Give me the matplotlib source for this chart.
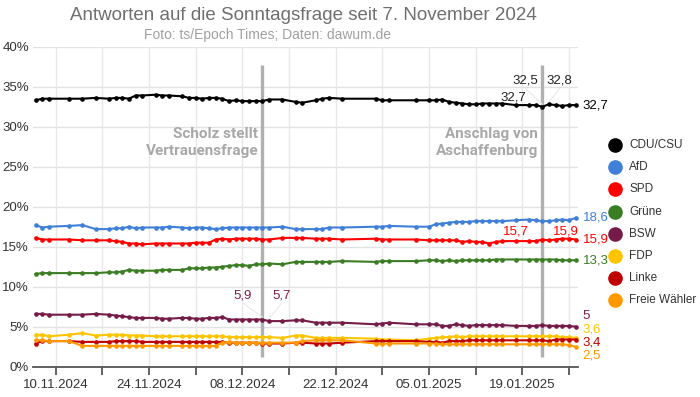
import matplotlib
matplotlib.use('Agg')
import matplotlib.pyplot as plt
import pandas as pd

# ---------------- data ----------------
dates = ["2024-11-07", "2024-11-08", "2024-11-09", "2024-11-12", "2024-11-14", "2024-11-16",
         "2024-11-18", "2024-11-19", "2024-11-20", "2024-11-21", "2024-11-22", "2024-11-23",
         "2024-11-25", "2024-11-26", "2024-11-27", "2024-11-29", "2024-11-30", "2024-12-01",
         "2024-12-02", "2024-12-03", "2024-12-04", "2024-12-05", "2024-12-06", "2024-12-07",
         "2024-12-08", "2024-12-09", "2024-12-10", "2024-12-11", "2024-12-12", "2024-12-14",
         "2024-12-16", "2024-12-17", "2024-12-19", "2024-12-20", "2024-12-21", "2024-12-23",
         "2024-12-28", "2024-12-29", "2024-12-30", "2025-01-03", "2025-01-05", "2025-01-06",
         "2025-01-07", "2025-01-08", "2025-01-09", "2025-01-10", "2025-01-11", "2025-01-12",
         "2025-01-13", "2025-01-14", "2025-01-15", "2025-01-16", "2025-01-18", "2025-01-20",
         "2025-01-21", "2025-01-22", "2025-01-23", "2025-01-24", "2025-01-25", "2025-01-26",
         "2025-01-27"]

cdu = [33.3, 33.5, 33.5, 33.5, 33.5, 33.6, 33.5, 33.6, 33.6, 33.5,
       33.9, 33.9, 34.0, 33.9, 33.9, 33.8, 33.6, 33.6, 33.5, 33.6,
       33.6, 33.5, 33.2, 33.3, 33.2, 33.2, 33.2, 33.2, 33.4, 33.4,
       33.1, 33.0, 33.3, 33.5, 33.6, 33.5, 33.5, 33.3, 33.3, 33.3,
       33.3, 33.3, 33.4, 33.1, 33.0, 32.9, 32.8, 32.8, 32.9, 32.9,
       32.9, 32.9, 32.7, 32.7, 32.7, 32.5, 32.8, 32.7, 32.6, 32.7,
       32.7]
afd = [17.7, 17.4, 17.5, 17.6, 17.7, 17.2, 17.2, 17.3, 17.3, 17.5,
       17.3, 17.4, 17.4, 17.4, 17.5, 17.4, 17.3, 17.4, 17.4, 17.3,
       17.2, 17.3, 17.4, 17.4, 17.4, 17.4, 17.4, 17.4, 17.4, 17.5,
       17.2, 17.2, 17.2, 17.2, 17.4, 17.4, 17.5, 17.5, 17.6, 17.5,
       17.5, 17.8, 17.9, 18.0, 18.1, 18.1, 18.1, 18.2, 18.2, 18.2,
       18.2, 18.2, 18.3, 18.4, 18.3, 18.2, 18.2, 18.3, 18.4, 18.3,
       18.6]
spd = [16.1, 15.9, 15.9, 15.9, 15.8, 15.8, 15.8, 15.7, 15.6, 15.4,
       15.4, 15.3, 15.4, 15.4, 15.4, 15.4, 15.4, 15.5, 15.5, 15.5,
       15.9, 16.0, 15.9, 16.0, 16.0, 16.0, 16.0, 15.9, 15.9, 16.1,
       16.1, 16.1, 16.0, 16.0, 16.0, 15.9, 16.0, 15.9, 15.9, 15.9,
       15.8, 15.8, 15.8, 15.8, 15.8, 15.6, 15.7, 15.6, 15.6, 15.4,
       15.6, 15.7, 15.7, 15.7, 15.7, 15.9, 15.8, 15.9, 16.0, 16.0,
       15.9]
gruene = [11.6, 11.7, 11.7, 11.7, 11.7, 11.7, 11.8, 11.8, 11.9, 12.1,
          12.0, 12.0, 12.0, 12.1, 12.1, 12.1, 12.3, 12.3, 12.3, 12.4,
          12.4, 12.5, 12.6, 12.7, 12.7, 12.6, 12.8, 12.8, 12.9, 12.8,
          13.1, 13.1, 13.1, 13.1, 13.1, 13.2, 13.1, 13.2, 13.2, 13.2,
          13.3, 13.3, 13.2, 13.3, 13.2, 13.3, 13.3, 13.3, 13.3, 13.3,
          13.4, 13.4, 13.4, 13.4, 13.4, 13.4, 13.4, 13.4, 13.3, 13.3,
          13.3]
bsw = [6.6, 6.6, 6.5, 6.5, 6.5, 6.6, 6.5, 6.4, 6.3, 6.2,
       6.1, 6.1, 6.1, 6.0, 6.0, 6.1, 6.1, 6.0, 6.0, 6.1,
       6.1, 6.2, 5.9, 5.9, 5.9, 5.9, 5.9, 5.9, 5.7, 5.7,
       5.8, 5.8, 5.5, 5.5, 5.5, 5.5, 5.3, 5.4, 5.5, 5.3,
       5.3, 5.3, 5.1, 5.1, 5.3, 5.2, 5.1, 5.2, 5.2, 5.2,
       5.2, 5.2, 5.1, 5.1, 5.1, 5.2, 5.1, 5.1, 5.1, 5.1,
       5.0]
fdp = [4.0, 4.0, 3.8, 4.0, 4.2, 3.9, 4.0, 4.0, 4.0, 3.9,
       3.9, 3.9, 3.8, 3.8, 3.8, 3.8, 3.8, 3.8, 3.8, 3.8,
       3.8, 3.8, 3.7, 3.7, 3.7, 3.7, 3.7, 3.7, 3.7, 3.6,
       3.9, 3.9, 3.6, 3.6, 3.6, 3.6, 3.5, 3.4, 3.4, 3.3,
       3.5, 3.6, 3.7, 3.7, 3.8, 3.7, 3.8, 3.8, 3.8, 3.8,
       3.8, 3.8, 3.8, 3.8, 3.8, 3.8, 3.8, 3.8, 3.7, 3.7,
       3.6]
linke = [2.9, 3.2, 3.2, 3.2, 3.1, 3.1, 3.1, 3.2, 3.2, 3.2,
         3.2, 3.1, 3.1, 3.1, 3.1, 3.1, 3.1, 3.1, 3.1, 3.1,
         3.1, 3.1, 3.0, 3.0, 3.0, 3.0, 3.0, 2.9, 2.9, 2.9,
         3.0, 3.0, 2.9, 2.9, 2.9, 3.0, 3.2, 3.2, 3.2, 3.2,
         3.1, 3.1, 3.0, 3.2, 3.2, 3.2, 3.3, 3.3, 3.3, 3.3,
         3.3, 3.3, 3.3, 3.3, 3.3, 3.3, 3.2, 3.4, 3.4, 3.4,
         3.4]
fw = [3.3, 3.3, 3.2, 3.2, 2.6, 2.6, 2.6, 2.6, 2.6, 2.6,
      2.6, 2.6, 2.6, 2.6, 2.6, 2.6, 2.6, 2.6, 2.6, 2.6,
      2.6, 3.0, 3.1, 3.0, 3.0, 3.0, 3.0, 3.0, 3.0, 3.0,
      3.0, 3.2, 3.3, 3.3, 3.3, 3.3, 2.9, 2.85, 2.9, 2.9,
      2.9, 2.9, 2.8, 2.8, 2.8, 2.8, 2.8, 2.8, 2.8, 2.8,
      2.8, 2.8, 2.8, 2.8, 2.8, 2.8, 2.8, 2.8, 2.8, 2.7,
      2.5]

parties = ["CDU/CSU", "AfD", "SPD", "Grüne", "BSW", "FDP", "Linke", "Freie Wähler"]
series = [cdu, afd, spd, gruene, bsw, fdp, linke, fw]
colors = ["#000000", "#3f7fd8", "#ff0000", "#3a7d22", "#741b47", "#ffc400", "#c00000", "#ff9900"]
end_labels = ["32,7", "18,6", "15,9", "13,3", "5", "3,6", "3,4", "2,5"]
end_label_y = [32.7, 18.6, 15.9, 13.3, 6.3, 4.6, 3.0, 1.45]

events = [("2024-12-11", "Scholz stellt\nVertrauensfrage"),
          ("2025-01-22", "Anschlag von\nAschaffenburg")]

# annotations: (text, text_date, text_y, point_date, point_value, color)
notes = [("5,9", "2024-12-08 02:00", 8.96, "2024-12-11", 5.9, "#741b47"),
         ("5,7", "2024-12-13 22:00", 8.96, "2024-12-12", 5.7, "#741b47"),
         ("32,7", "2025-01-17 14:00", 33.6, None, None, "#222222"),
         ("32,5", "2025-01-19 12:00", 35.75, "2025-01-22", 32.5, "#222222"),
         ("32,8", "2025-01-24 14:00", 35.75, "2025-01-23", 32.8, "#222222"),
         ("15,7", "2025-01-18 00:00", 16.9, None, None, "#ff0000"),
         ("15,9", "2025-01-25 14:00", 16.9, None, None, "#ff0000")]

yticks = [0, 5, 10, 15, 20, 25, 30, 35, 40]

# ---------------- figure ----------------
plt.rcParams['font.family'] = ['Liberation Sans', 'DejaVu Sans']
fig = plt.figure(figsize=(7.0, 3.97), dpi=100)
ax = fig.add_axes([33/700, 30.3/397, 545/700, 320/397])

x = pd.to_datetime(dates)
ref = pd.Timestamp("2024-11-10")
ax.set_xlim(ref - pd.Timedelta(days=3.4), ref + pd.Timedelta(days=78.35))
ax.set_ylim(0, 40)

# grid
for yv in yticks[1:]:
    ax.axhline(yv, color="#e2e2e2", lw=1.0, zorder=0)
wk = pd.date_range("2024-11-10", "2025-01-26", freq="7D")
for d in wk:
    ax.axvline(d, color="#e8e8e8", lw=1.0, zorder=0)

# event lines
for d, txt in events:
    dd = pd.Timestamp(d)
    ax.plot([dd, dd], [1.2, 37.7], color="#b0b0b0", lw=2.4, zorder=1, solid_capstyle='butt')
    ax.text(dd - pd.Timedelta(days=0.6), 28.0, txt, ha="right", va="center",
            fontsize=11, fontweight="bold", color="#a8a8a8", linespacing=1.3,
            family=['Roboto', 'Liberation Sans'])

# series
for vals, col in zip(series, colors):
    ax.plot(x, vals, color=col, lw=1.5, marker="o", ms=2.3, zorder=3)

# end labels
for vals, col, lab, ly in zip(series, colors, end_labels, end_label_y):
    ax.annotate(lab, xy=(x[-1], ly), xytext=(7, 0), textcoords="offset pixels",
                color=col, fontsize=9.5, va="center", ha="left", annotation_clip=False)

# in-chart notes
for txt, td, ty, pd_, pv, col in notes:
    tdt = pd.Timestamp(td)
    if pd_ is not None:
        ax.plot([tdt, pd.Timestamp(pd_)], [ty - 1.0, pv + 0.3], color="#e8e8e8", lw=0.8, zorder=2)
    ax.text(tdt, ty, txt, color=col, fontsize=9.5, ha="center", va="center", zorder=4)

# axes styling
for s in ["top", "right", "left"]:
    ax.spines[s].set_visible(False)
ax.spines["bottom"].set_color("#555555")
ax.spines["bottom"].set_linewidth(1.3)
ax.set_yticks(yticks)
ax.set_yticklabels([f"{v}%" for v in yticks])
ax.tick_params(axis="y", length=0, pad=3, labelsize=9.5, labelcolor="#333333")
major = pd.date_range("2024-11-10", "2025-01-26", freq="14D")
ax.set_xticks(major)
ax.set_xticklabels([d.strftime("%d.%m.%Y") for d in major])
ax.set_xticks(wk, minor=True)
ax.tick_params(axis="x", which="both", length=6, width=1.3, color="#555555",
               labelsize=9.5, labelcolor="#333333", pad=3)

# legend
leg_x = 615 / 700
for i, (p, col) in enumerate(zip(parties, colors)):
    yy = 1 - (145 + 22.2 * i) / 397
    fig.add_artist(plt.Line2D([leg_x], [yy], marker="o", ms=9.5, color=col,
                              transform=fig.transFigure, linestyle="none"))
    fig.text(629 / 700, yy, p, fontsize=8.5, color="#333333", va="center", ha="left")

# titles
fig.text(303 / 700, 1 - 16 / 397, "Antworten auf die Sonntagsfrage seit 7. November 2024",
         ha="center", va="center", fontsize=13.5, color="#6f6f6f")
fig.text(267 / 700, 1 - 35 / 397, "Foto: ts/Epoch Times; Daten: dawum.de",
         ha="center", va="center", fontsize=10, color="#a0a0a0")

fig.savefig("out.png", dpi=100)
